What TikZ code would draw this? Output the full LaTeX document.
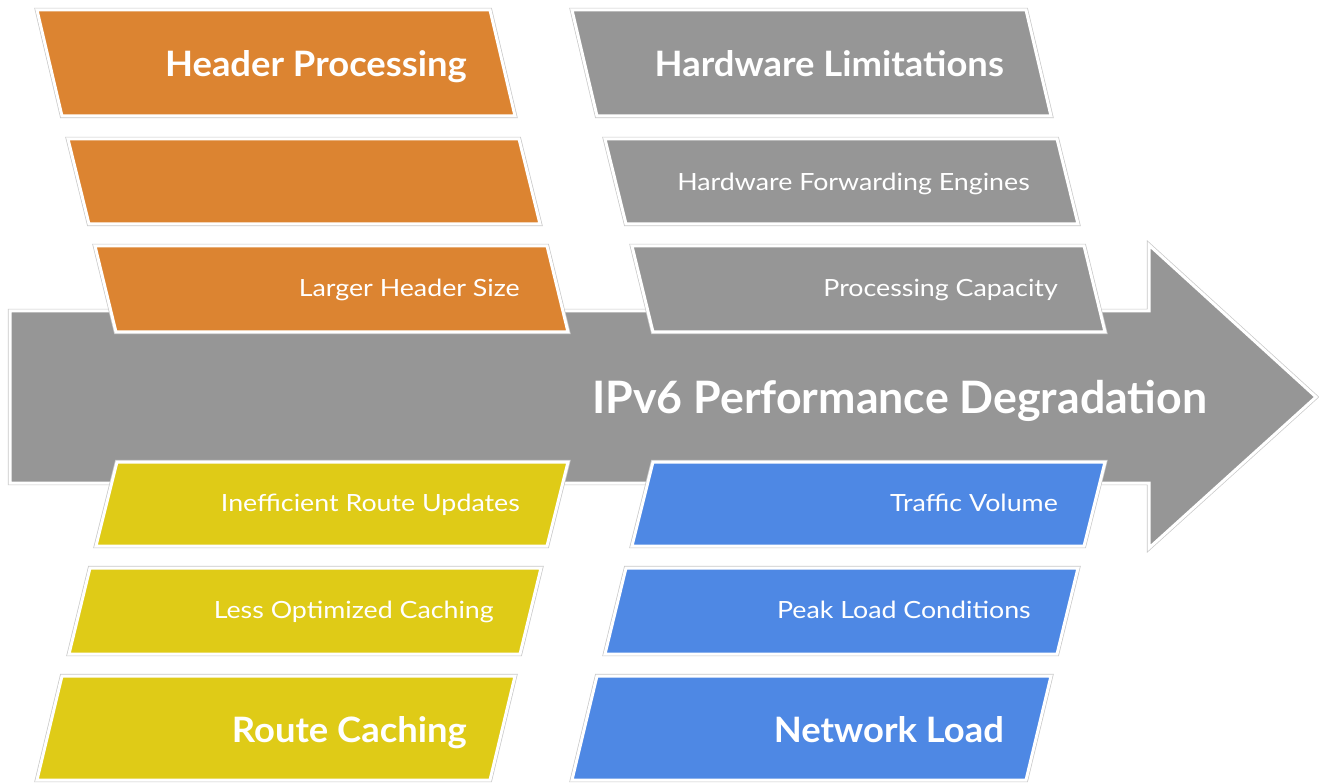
\documentclass[tikz,border=0pt]{standalone}
\usepackage{fontspec}
\setmainfont{Lato}
\newfontfamily\labelf[FakeStretch=1.13]{Lato}
\newfontfamily\boldf{Lato Bold}
\newfontfamily\headf[FakeStretch=1.04]{Lato Bold}
\definecolor{corange}{RGB}{220,132,49}
\definecolor{cgray}{RGB}{150,150,150}
\definecolor{cyellow}{RGB}{223,203,23}
\definecolor{cblue}{RGB}{78,136,228}
\definecolor{cedge}{RGB}{200,200,200}
\tikzset{
  shapebox/.style={fill=#1, draw=white, line width=3pt, line join=miter,
    preaction={draw=cedge, line width=4.4pt}},
  bigtxt/.style={text=white, inner sep=0pt, anchor=base east, font=\headf\fontsize{35}{40}\selectfont},
  smalltxt/.style={text=white, inner sep=0pt, anchor=base east, font=\labelf\fontsize{23.7}{28}\selectfont},
  titletxt/.style={text=white, inner sep=0pt, anchor=base west, font=\boldf\fontsize{44.7}{50}\selectfont}
}
\begin{document}
\begin{tikzpicture}[x=1pt,y=-1pt]
\useasboundingbox (0,0) rectangle (1319,783);
% main arrow
\path[shapebox=cgray] (10,311) -- (1149,311) -- (1149,245) -- (1316,397) -- (1149,548) -- (1149,483) -- (10,483) -- cycle;
\node[titletxt] (title) at (592,413) {IPv6 Performance Degradation};
% orange
\path[shapebox=corange] (37,10) -- (490,10) -- (515,116) -- (62,116) -- cycle;
\path[shapebox=corange] (68,139) -- (519,139) -- (540,224) -- (89,224) -- cycle;
\path[shapebox=corange] (95,246) -- (547,246) -- (568,332) -- (116,332) -- cycle;
\node[bigtxt] (hp) at (467,77) {Header Processing};
\node[smalltxt] (lhs) at (520,297) {Larger Header Size};
% gray
\path[shapebox=cgray] (572,10) -- (1026,10) -- (1051,116) -- (597,116) -- cycle;
\path[shapebox=cgray] (605,139) -- (1057,139) -- (1078,224) -- (626,224) -- cycle;
\path[shapebox=cgray] (632,246) -- (1084,246) -- (1105,332) -- (653,332) -- cycle;
\node[bigtxt] (hl) at (1004,77) {Hardware Limitations};
\node[smalltxt] (hfe) at (1030,190.5) {Hardware Forwarding Engines};
\node[smalltxt] (pc) at (1058,297) {Processing Capacity};
% yellow
\path[shapebox=cyellow] (117,462) -- (568,462) -- (547,546) -- (96,546) -- cycle;
\path[shapebox=cyellow] (90,568) -- (541,568) -- (520,654) -- (69,654) -- cycle;
\path[shapebox=cyellow] (62,676) -- (515,676) -- (490,780) -- (37,780) -- cycle;
\node[smalltxt] (iru) at (520,511.5) {Inefficient Route Updates};
\node[smalltxt] (loc) at (494,618.5) {Less Optimized Caching};
\node[bigtxt] (rc) at (467,742) {Route Caching};
% blue
\path[shapebox=cblue] (653,462) -- (1105,462) -- (1084,546) -- (632,546) -- cycle;
\path[shapebox=cblue] (626,568) -- (1078,568) -- (1057,654) -- (605,654) -- cycle;
\path[shapebox=cblue] (597,676) -- (1051,676) -- (1026,780) -- (572,780) -- cycle;
\node[smalltxt] (tv) at (1058,511.5) {Traffic Volume};
\node[smalltxt] (plc) at (1031,618.5) {Peak Load Conditions};
\node[bigtxt] (nl) at (1004,742) {Network Load};
\end{tikzpicture}
\end{document}
